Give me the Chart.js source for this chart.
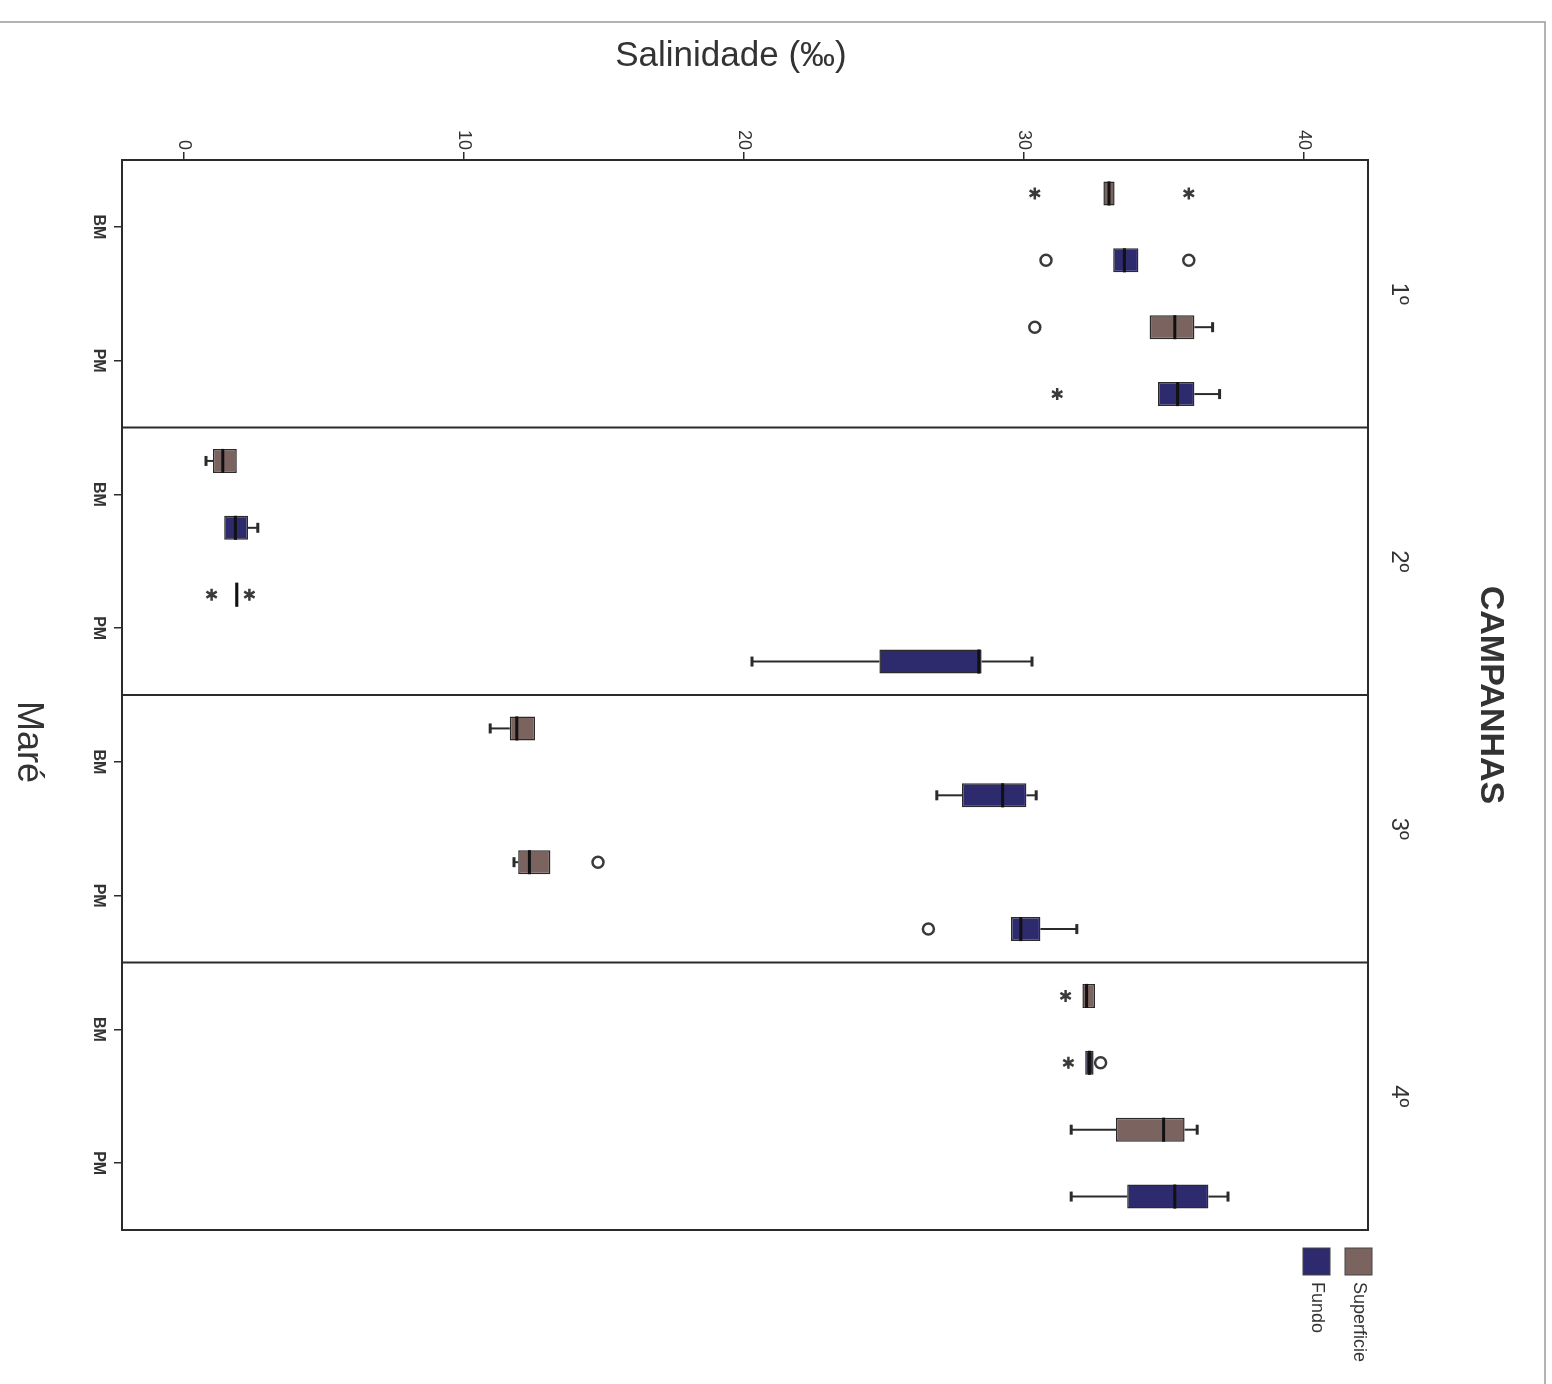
<!DOCTYPE html>
<html>
<head>
<meta charset="utf-8">
<script src="https://cdn.jsdelivr.net/npm/chart.js@4.4.0/dist/chart.umd.min.js"></script>
<style>
  html, body { margin: 0; padding: 0; background: #fff; }
  #wrap { width: 1552px; height: 1384px; position: relative; }
</style>
</head>
<body>
<div id="wrap"><canvas id="chart" width="1552" height="1384"></canvas></div>
<script>
// Maré categories (BM / PM inside each campanha)
const mare = ['BM', 'PM', 'BM', 'PM', 'BM', 'PM', 'BM', 'PM'];
const campanhas = ['1º', '2º', '3º', '4º'];
const salTicks = [0, 10, 20, 30, 40];

// Superficie box stats
const supMin = [32.85, 34.5, 0.8, 1.85, 10.95, 11.8, 32.1, 31.7];
const supQ1  = [32.85, 34.5, 1.05, 1.85, 11.65, 11.95, 32.1, 33.3];
const supMed = [33.05, 35.4, 1.4, 1.9, 11.9, 12.35, 32.25, 35.0];
const supQ3  = [33.25, 36.1, 1.9, 1.95, 12.55, 13.1, 32.55, 35.75];
const supMax = [33.25, 36.75, 1.9, 1.95, 12.55, 13.1, 32.55, 36.2];
// outliers as [category index, value]
const supCircles = [[1, 30.4], [5, 14.8]];
const supStars = [[0, 30.4], [0, 35.9], [3, 1.0], [3, 2.35], [6, 31.5]];

// Fundo box stats
const funMin = [33.2, 34.8, 1.45, 20.3, 26.9, 29.55, 32.2, 31.7];
const funQ1  = [33.2, 34.8, 1.45, 24.85, 27.8, 29.55, 32.2, 33.7];
const funMed = [33.6, 35.5, 1.85, 28.4, 29.25, 29.9, 32.35, 35.4];
const funQ3  = [34.1, 36.1, 2.3, 28.5, 30.1, 30.6, 32.5, 36.6];
const funMax = [34.1, 37.0, 2.65, 30.3, 30.45, 31.9, 32.5, 37.3];
const funCircles = [[0, 30.8], [0, 35.9], [5, 26.6], [6, 32.75]];
const funStars = [[1, 31.2], [6, 31.6]];

const supColor = '#7b6460';
const funColor = '#2e2a6e';
const ink = '#2b2b2b';

const boxStats = [
  { min: supMin, med: supMed, max: supMax, q1: supQ1, q3: supQ3, circles: supCircles, stars: supStars },
  { min: funMin, med: funMed, max: funMax, q1: funQ1, q3: funQ3, circles: funCircles, stars: funStars }
];

function drawStar(ctx, x, y, r) {
  ctx.beginPath();
  for (let k = 0; k < 3; k++) {
    const a = Math.PI / 2 + k * Math.PI / 3;
    ctx.moveTo(x - r * Math.cos(a), y - r * Math.sin(a));
    ctx.lineTo(x + r * Math.cos(a), y + r * Math.sin(a));
  }
  ctx.stroke();
}

// whiskers, medians and outliers on top of the bars
const boxPlugin = {
  id: 'boxParts',
  afterDatasetsDraw(chart) {
    const ctx = chart.ctx;
    const xs = chart.scales.x;
    boxStats.forEach((st, di) => {
      const meta = chart.getDatasetMeta(di);
      meta.data.forEach((bar, i) => {
        const y = bar.y;
        const h = bar.height;
        ctx.save();
        ctx.strokeStyle = ink;
        // whiskers
        const pairs = [[st.min[i], st.q1[i]], [st.q3[i], st.max[i]]];
        pairs.forEach(p => {
          if (Math.abs(p[1] - p[0]) < 0.01) return;
          const a = xs.getPixelForValue(p[0]);
          const b = xs.getPixelForValue(p[1]);
          ctx.lineWidth = 2;
          ctx.beginPath();
          ctx.moveTo(a, y); ctx.lineTo(b, y);
          ctx.stroke();
          const cap = p[0] === st.min[i] ? a : b;
          ctx.lineWidth = 3;
          ctx.beginPath();
          ctx.moveTo(cap, y - 5); ctx.lineTo(cap, y + 5);
          ctx.stroke();
        });
        // median
        const m = xs.getPixelForValue(st.med[i]);
        ctx.strokeStyle = '#111';
        ctx.lineWidth = 3;
        ctx.beginPath();
        ctx.moveTo(m, y - h / 2); ctx.lineTo(m, y + h / 2);
        ctx.stroke();
        ctx.restore();
      });
      ctx.save();
      ctx.strokeStyle = '#3a3a3a';
      ctx.lineWidth = 2.5;
      st.circles.forEach(o => {
        const bar = meta.data[o[0]];
        ctx.beginPath();
        ctx.arc(xs.getPixelForValue(o[1]), bar.y, 5.5, 0, Math.PI * 2);
        ctx.stroke();
      });
      st.stars.forEach(o => {
        const bar = meta.data[o[0]];
        drawStar(ctx, xs.getPixelForValue(o[1]), bar.y, 6);
      });
      ctx.restore();
    });
  }
};

// frame, separators, rotated texts and legend
const decorPlugin = {
  id: 'decor',
  beforeDraw(chart) {
    const ctx = chart.ctx;
    ctx.save();
    ctx.fillStyle = '#fff';
    ctx.fillRect(0, 0, chart.width, chart.height);
    ctx.strokeStyle = '#9a9a9a';
    ctx.lineWidth = 1.5;
    ctx.beginPath();
    ctx.moveTo(0, 22); ctx.lineTo(1545, 22); ctx.lineTo(1545, 1384);
    ctx.stroke();
    ctx.restore();
  },
  afterDraw(chart) {
    const ctx = chart.ctx;
    const area = chart.chartArea;
    const xs = chart.scales.x;
    const ys = chart.scales.y;
    ctx.save();
    ctx.strokeStyle = ink;
    ctx.lineWidth = 2;
    ctx.strokeRect(area.left, area.top, area.right - area.left, area.bottom - area.top);
    // panel separators
    for (let p = 1; p < campanhas.length; p++) {
      const py = ys.getPixelForValue(p * 2 - 0.5);
      ctx.beginPath();
      ctx.moveTo(area.left, py); ctx.lineTo(area.right, py);
      ctx.stroke();
    }
    ctx.fillStyle = '#333';
    // salinity tick labels
    ctx.font = '18px "Liberation Sans", Arial, sans-serif';
    salTicks.forEach(v => {
      ctx.save();
      ctx.translate(xs.getPixelForValue(v), area.top - 10);
      ctx.rotate(Math.PI / 2);
      ctx.textAlign = 'right';
      ctx.textBaseline = 'middle';
      ctx.fillText(String(v), 0, 0);
      ctx.restore();
    });
    // maré tick labels
    ctx.font = 'bold 16px "Liberation Sans Narrow", "Liberation Sans", Arial, sans-serif';
    mare.forEach((lab, i) => {
      ctx.save();
      ctx.translate(98, ys.getPixelForValue(i));
      ctx.rotate(Math.PI / 2);
      ctx.textAlign = 'center';
      ctx.textBaseline = 'middle';
      ctx.fillText(lab, 0, 0);
      ctx.restore();
    });
    // campanha labels
    ctx.font = '24px "Liberation Sans", Arial, sans-serif';
    campanhas.forEach((lab, p) => {
      ctx.save();
      ctx.translate(1399, ys.getPixelForValue(p * 2 + 0.5));
      ctx.rotate(Math.PI / 2);
      ctx.textAlign = 'center';
      ctx.textBaseline = 'middle';
      ctx.fillText(lab, 0, 0);
      ctx.restore();
    });
    // titles
    ctx.font = 'bold 34px "Liberation Sans", Arial, sans-serif';
    ctx.save();
    ctx.translate(1490, (area.top + area.bottom) / 2);
    ctx.rotate(Math.PI / 2);
    ctx.textAlign = 'center';
    ctx.textBaseline = 'middle';
    ctx.fillText('CAMPANHAS', 0, 0);
    ctx.restore();

    ctx.font = '35px "Liberation Sans", Arial, sans-serif';
    ctx.textAlign = 'center';
    ctx.textBaseline = 'middle';
    ctx.fillText('Salinidade (‰)', 731, 56);

    ctx.font = '36px "Liberation Sans", Arial, sans-serif';
    ctx.save();
    ctx.translate(28, 742);
    ctx.rotate(Math.PI / 2);
    ctx.fillText('Maré', 0, 0);
    ctx.restore();

    // legend
    const items = [
      { label: 'Superficie', color: supColor, x: 1345 },
      { label: 'Fundo', color: funColor, x: 1303 }
    ];
    ctx.font = '18px "Liberation Sans", Arial, sans-serif';
    items.forEach(it => {
      ctx.fillStyle = it.color;
      ctx.fillRect(it.x, 1248, 27, 27);
      ctx.strokeStyle = '#444';
      ctx.lineWidth = 1;
      ctx.strokeRect(it.x, 1248, 27, 27);
      ctx.fillStyle = '#333';
      ctx.save();
      ctx.translate(it.x + 13.5, 1282);
      ctx.rotate(Math.PI / 2);
      ctx.textAlign = 'left';
      ctx.textBaseline = 'middle';
      ctx.fillText(it.label, 0, 0);
      ctx.restore();
    });
    ctx.restore();
  }
};

const supBoxes = supQ1.map((v, i) => [v, supQ3[i]]);
const funBoxes = funQ1.map((v, i) => [v, funQ3[i]]);

new Chart(document.getElementById('chart'), {
  type: 'bar',
  data: {
    labels: mare,
    datasets: [
      { label: 'Superficie', data: supBoxes, backgroundColor: supColor, borderColor: ink,
        borderWidth: 1.5, borderSkipped: false, barPercentage: 0.36, categoryPercentage: 1.0 },
      { label: 'Fundo', data: funBoxes, backgroundColor: funColor, borderColor: ink,
        borderWidth: 1.5, borderSkipped: false, barPercentage: 0.36, categoryPercentage: 1.0 }
    ]
  },
  options: {
    indexAxis: 'y',
    responsive: false,
    animation: false,
    layout: { padding: { left: 122, top: 160, right: 184, bottom: 154 } },
    plugins: { legend: { display: false }, tooltip: { enabled: false } },
    scales: {
      x: {
        type: 'linear',
        position: 'top',
        min: -2.2,
        max: 42.3,
        ticks: { display: false, stepSize: 10, includeBounds: false },
        grid: { drawOnChartArea: false, drawTicks: true, tickLength: 8, color: ink, lineWidth: 1.5 },
        border: { display: true, color: ink, width: 2 },
        afterFit(scale) { scale.height = 0; }
      },
      y: {
        type: 'category',
        position: 'left',
        ticks: { display: false },
        grid: { offset: false, drawOnChartArea: false, drawTicks: true, tickLength: 8, color: ink, lineWidth: 1.5 },
        border: { display: true, color: ink, width: 2 },
        afterFit(scale) { scale.width = 0; }
      }
    }
  },
  plugins: [decorPlugin, boxPlugin]
});
</script>
</body>
</html>
